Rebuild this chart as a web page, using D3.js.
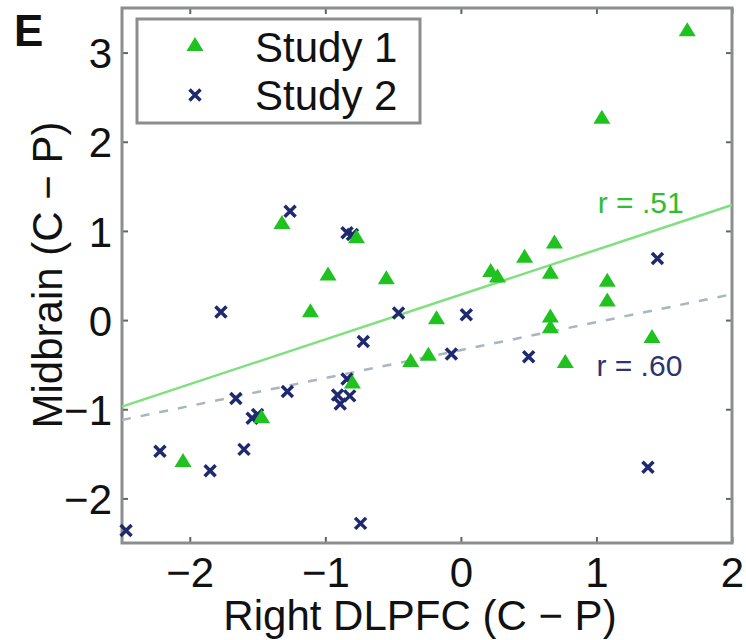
<!DOCTYPE html>
<html><head><meta charset="utf-8">
<script src="https://cdn.jsdelivr.net/npm/d3@7"></script>
<style>body{margin:0;background:#fff}svg{display:block}</style>
</head><body>
<script>
// Study 1 (green triangles): [x, y]
const study1 = [
  [1.67, 3.25], [1.04, 2.27], [-1.32, 1.09], [-0.77, 0.93], [-0.98, 0.51],
  [-0.55, 0.47], [-1.11, 0.10], [-0.18, 0.02], [0.22, 0.55], [0.27, 0.49],
  [0.47, 0.71], [0.69, 0.87], [0.66, 0.53], [1.08, 0.44], [1.08, 0.22],
  [0.66, 0.04], [0.66, -0.08], [1.41, -0.19], [0.77, -0.47], [-0.37, -0.46],
  [-0.24, -0.39], [-0.80, -0.70], [-1.47, -1.09], [-2.05, -1.58]
];
// Study 2 (navy crosses): [x, y]
const study2 = [
  [-1.26, 1.22], [-0.84, 0.98], [-0.80, 0.96], [-1.77, 0.09], [0.04, 0.06],
  [-0.46, 0.08], [-0.72, -0.24], [-0.07, -0.38], [1.45, 0.69], [0.50, -0.41],
  [1.38, -1.65], [-0.74, -2.28], [-2.47, -2.36], [-2.22, -1.47], [-1.85, -1.69],
  [-1.60, -1.45], [-1.66, -0.88], [-1.28, -0.80], [-1.50, -1.06], [-1.54, -1.10],
  [-0.84, -0.66], [-0.91, -0.84], [-0.82, -0.85], [-0.89, -0.94]
];
// Regression lines (endpoints)
const fit1 = [[-2.5, -0.97], [2, 1.29]];
const fit2 = [[-2.5, -1.12], [2, 0.29]];
const xTicks = [-2, -1, 0, 1, 2];
const yTicks = [-2, -1, 0, 1, 2, 3];
const seriesNames = ["Study 1", "Study 2"];
const rLabels = ["r = .51", "r = .60"];
const rLabelPos = [[1.01, 1.2], [1.0, -0.63]];

const W = 746, H = 640;
const m = {left: 122, right: 732, top: 8, bottom: 543};
const font = "'Liberation Sans', Arial, Helvetica, sans-serif";
const green = "#1fc21f", navy = "#1f2a6e", axisC = "#8c8e8e";

const svg = d3.select("body").append("svg").attr("width", W).attr("height", H);
const x = d3.scaleLinear().domain([-2.5, 2]).range([m.left, m.right]);
const y = d3.scaleLinear().domain([-2.5, 3.5]).range([m.bottom, m.top]);

// axes with inward ticks
const tl = 6;
const gB = svg.append("g").attr("transform", `translate(0,${m.bottom})`)
  .call(d3.axisBottom(x).tickValues(xTicks).tickSize(-tl).tickPadding(14)
    .tickFormat(d => d < 0 ? "\u2212" + Math.abs(d) : d));
const gT = svg.append("g").attr("transform", `translate(0,${m.top})`)
  .call(d3.axisTop(x).tickValues(xTicks).tickSize(-tl).tickFormat(""));
const gL = svg.append("g").attr("transform", `translate(${m.left},0)`)
  .call(d3.axisLeft(y).tickValues(yTicks).tickSize(-tl).tickPadding(10)
    .tickFormat(d => d < 0 ? "\u2212" + Math.abs(d) : d));
const gR = svg.append("g").attr("transform", `translate(${m.right},0)`)
  .call(d3.axisRight(y).tickValues(yTicks).tickSize(-tl).tickFormat(""));
[gB, gT, gL, gR].forEach(g => {
  g.select(".domain").remove();
  g.selectAll(".tick line").attr("stroke", "#5f6464").attr("stroke-width", 2);
  g.selectAll("text").attr("font-family", font).attr("font-size", 42).attr("fill", "#111");
});
gB.selectAll("text").attr("dy", "0.71em");
gL.selectAll("text").attr("dy", "0.36em");

// box
svg.append("rect").attr("x", m.left).attr("y", m.top)
  .attr("width", m.right - m.left).attr("height", m.bottom - m.top)
  .attr("fill", "none").attr("stroke", axisC).attr("stroke-width", 3);

// regression lines
const line = d3.line().x(d => x(d[0])).y(d => y(d[1]));
svg.append("path").datum(fit1).attr("d", line).attr("stroke", "#7fe07f")
  .attr("stroke-width", 2.5).attr("fill", "none");
svg.append("path").datum(fit2).attr("d", line).attr("stroke", "#aab5c4")
  .attr("stroke-width", 2.5).attr("fill", "none").attr("stroke-dasharray", "9,10");

const tri = "M0,-8L8.5,6L-8.5,6Z";
const cross = "M-5.5,-5.5L5.5,5.5M-5.5,5.5L5.5,-5.5";

// points
svg.append("g").selectAll("path").data(study2).join("path")
  .attr("transform", d => `translate(${x(d[0])},${y(d[1])})`)
  .attr("d", cross).attr("stroke", navy).attr("stroke-width", 3.5).attr("fill", "none");
svg.append("g").selectAll("path").data(study1).join("path")
  .attr("transform", d => `translate(${x(d[0])},${y(d[1])})`)
  .attr("d", tri).attr("fill", green);

// r labels
svg.selectAll(".rl").data(rLabels).join("text").attr("class", "rl")
  .attr("x", (d, i) => x(rLabelPos[i][0])).attr("y", (d, i) => y(rLabelPos[i][1]))
  .attr("font-family", font).attr("font-size", 30)
  .attr("fill", (d, i) => i === 0 ? "#2ebf2e" : "#2a3570").text(d => d);

// legend
svg.append("rect").attr("x", 137).attr("y", 19).attr("width", 283).attr("height", 104)
  .attr("fill", "#fff").attr("stroke", axisC).attr("stroke-width", 3);
svg.append("path").attr("transform", "translate(195,45)").attr("d", tri).attr("fill", green);
svg.append("path").attr("transform", "translate(195,95)").attr("d", cross)
  .attr("stroke", navy).attr("stroke-width", 3.5).attr("fill", "none");
svg.selectAll(".lg").data(seriesNames).join("text").attr("class", "lg")
  .attr("x", 255).attr("y", (d, i) => 62 + i * 48)
  .attr("font-family", font).attr("font-size", 42).attr("fill", "#111").text(d => d);

// axis titles
svg.append("text").attr("x", 420).attr("y", 630)
  .attr("text-anchor", "middle").attr("font-family", font).attr("font-size", 42)
  .attr("fill", "#111").text("Right DLPFC (C \u2212 P)");
svg.append("text").attr("transform", "translate(62,275) rotate(-90)")
  .attr("text-anchor", "middle").attr("font-family", font).attr("font-size", 42)
  .attr("fill", "#111").text("Midbrain (C \u2212 P)");
svg.append("text").attr("x", 14).attr("y", 46).attr("font-family", font)
  .attr("font-weight", "bold").attr("font-size", 44).attr("fill", "#111").text("E");
</script>
</body></html>
